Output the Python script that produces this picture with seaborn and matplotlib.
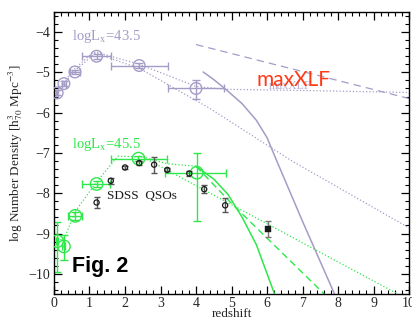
import numpy as np
import pandas as pd
import matplotlib
matplotlib.use("Agg")
import matplotlib.pyplot as plt
import seaborn as sns
from matplotlib.ticker import MultipleLocator

# ---------------- data ----------------
# logLx = 43.5 (purple) data points
p_z = [0.09, 0.28, 0.59, 1.2, 2.4, 4.0]
p_y = [-5.51, -5.28, -4.99, -4.6, -4.83, -5.40]
p_xlo = [0.03, 0.05, 0.15, 0.4, 0.8, 0.8]
p_xhi = [0.03, 0.05, 0.15, 0.4, 0.8, 0.8]
p_ylo = [0.06, 0.06, 0.06, 0.06, 0.06, 0.25]
p_yhi = [0.06, 0.06, 0.06, 0.06, 0.06, 0.2]

# purple model curves
pu1_z = [0.05, 0.3, 0.6, 1.2, 2.4, 4.0, 4.8, 7.0, 10.0]
pu1_y = [-5.55, -5.25, -4.95, -4.5, -4.8, -5.35, -5.42, -5.45, -5.5]
pu2_z = [0.05, 0.3, 0.6, 1.1, 2.4, 4.4, 6.7, 10.0]
pu2_y = [-5.5, -5.2, -4.9, -4.5, -4.9, -5.9, -7.2, -8.86]
pdash_z = [4.0, 10.0]
pdash_y = [-4.31, -5.65]
psolid_z = [4.2, 4.5, 4.85, 5.3, 5.7, 6.0, 6.25, 7.0, 7.9]
psolid_y = [-4.99, -5.18, -5.43, -5.78, -6.19, -6.62, -7.15, -8.7, -10.5]

# logLx = 45.5 (green) data points
g_z = [0.09, 0.28, 0.6, 1.2, 2.38, 4.02]
g_y = [-9.19, -9.32, -8.56, -7.77, -7.14, -7.49]
g_xlo = [0.02, 0.04, 0.2, 0.4, 0.78, 0.88]
g_xhi = [0.02, 0.04, 0.18, 0.38, 0.8, 0.83]
g_ylo = [0.76, 0.34, 0.1, 0.07, 0.07, 1.2]
g_yhi = [0.48, 0.28, 0.1, 0.07, 0.07, 0.49]

# green model curves
gdot_z = [0.1, 0.3, 0.6, 1.2, 1.8, 2.5, 9.68]
gdot_y = [-9.2, -9.1, -8.45, -7.72, -7.08, -7.1, -10.5]
gdot2_z = [2.5, 3.2, 4.0]
gdot2_y = [-7.1, -7.27, -7.33]
gsolid_z = [4.0, 4.5, 4.9, 5.3, 5.7, 6.21]
gsolid_y = [-7.33, -7.65, -8.03, -8.6, -9.28, -10.5]
gdash_z = [4.0, 5.03, 7.61]
gdash_y = [-7.33, -8.28, -10.5]

# SDSS QSOs
s_z = [1.2, 1.6, 2.0, 2.4, 2.82, 3.19, 3.81, 4.23, 4.82]
s_y = [-8.23, -7.69, -7.36, -7.25, -7.29, -7.42, -7.51, -7.9, -8.3]
s_err = [0.13, 0.08, 0.04, 0.04, 0.2, 0.04, 0.07, 0.1, 0.17]
s6_z = [6.02]
s6_y = [-8.88]
s6_err = [0.2]

# ---------------- style ----------------
sns.set_style("ticks")
plt.rcParams["font.family"] = ["Liberation Serif", "DejaVu Serif"]
plt.rcParams["mathtext.fontset"] = "stix"
plt.rcParams["axes.unicode_minus"] = True

PURPLE = "#a59cc6"
GREEN = "#2ee84a"
BLACK = "#1a1a1a"

fig = plt.figure(figsize=(4.12, 3.22), dpi=100)
ax = fig.add_axes([0.131, 0.087, 0.862, 0.876])

def line(z, y, color, ls, lw=1.0):
    df = pd.DataFrame({"z": z, "y": y})
    sns.lineplot(data=df, x="z", y="y", ax=ax, color=color, linestyle=ls,
                 linewidth=lw, sort=False, estimator=None)

# purple curves
line(pu1_z, pu1_y, PURPLE, ":", 0.9)
line(pu2_z, pu2_y, PURPLE, ":", 0.9)
line(pdash_z, pdash_y, PURPLE, (0, (6, 4)), 0.9)
line(psolid_z, psolid_y, PURPLE, "-", 1.1)

# green curves
line(gdot_z, gdot_y, GREEN, ":", 0.9)
line(gdot2_z, gdot2_y, GREEN, ":", 0.9)
line(gsolid_z, gsolid_y, GREEN, "-", 1.1)
line(gdash_z, gdash_y, GREEN, (0, (5, 3)), 1.0)

# purple points
ax.errorbar(p_z, p_y, xerr=[p_xlo, p_xhi], yerr=[p_ylo, p_yhi], fmt="none",
            ecolor=PURPLE, elinewidth=1.0, capsize=3)
sns.scatterplot(x=p_z, y=p_y, ax=ax, marker="o", s=70, facecolor="none",
                edgecolor=PURPLE, linewidth=1.0, zorder=5)

# green points
ax.errorbar(g_z, g_y, xerr=[g_xlo, g_xhi], yerr=[g_ylo, g_yhi], fmt="none",
            ecolor=GREEN, elinewidth=1.0, capsize=3)
sns.scatterplot(x=g_z, y=g_y, ax=ax, marker="o", s=80, facecolor="none",
                edgecolor=GREEN, linewidth=1.0, zorder=5)

# SDSS points
ax.errorbar(s_z, s_y, yerr=s_err, fmt="none", ecolor="#555555",
            elinewidth=1.0, capsize=2.5)
sns.scatterplot(x=s_z, y=s_y, ax=ax, marker="o", s=14, facecolor="none",
                edgecolor=BLACK, linewidth=0.9, zorder=6)
ax.errorbar(s6_z, s6_y, yerr=s6_err, fmt="none", ecolor="#777777",
            elinewidth=1.0, capsize=2.5)
sns.scatterplot(x=s6_z, y=s6_y, ax=ax, marker="s", s=14, color=BLACK,
                edgecolor=BLACK, zorder=6)

# texts
ax.text(0.52, -4.1, r"logL$_\mathrm{x}$=43.5", color=PURPLE, fontsize=10.5,
        va="center", ha="left")
ax.text(0.52, -6.78, r"logL$_\mathrm{x}$=45.5", color=GREEN, fontsize=10.5,
        va="center", ha="left")
ax.text(1.5, -8.07, "SDSS  QSOs", color=BLACK, fontsize=9.5, va="center",
        ha="left")
ax.text(6.05, -5.33, "maxXLF", color=PURPLE, fontsize=8.5, va="center",
        ha="left", alpha=0.8)
ax.text(5.7, -5.2, "maxXLF", color="#ff3a16", fontsize=15, va="center",
        ha="left", family=["Lato", "DejaVu Sans"])
ax.text(0.52, -9.82, "Fig. 2", color="black", fontsize=15.5, va="center",
        ha="left", fontweight="bold", family=["Liberation Sans", "DejaVu Sans"])

ax.set_xlim(0, 10)
ax.set_ylim(-10.5, -3.5)
ax.set_xlabel("redshift", fontsize=9.5, labelpad=-1)
ax.set_ylabel(r"log Number Density [h$^3_{70}$ Mpc$^{-3}$]", fontsize=9.5,
              labelpad=2)

ax.xaxis.set_major_locator(MultipleLocator(1))
ax.xaxis.set_minor_locator(MultipleLocator(0.2))
ax.yaxis.set_major_locator(MultipleLocator(1))
ax.yaxis.set_minor_locator(MultipleLocator(0.2))
ax.tick_params(which="both", direction="in", top=True, right=True,
               labelsize=10, color="black")
ax.tick_params(which="major", length=6, width=0.9, pad=3)
ax.tick_params(axis="x", which="major", pad=2)
ax.tick_params(which="minor", length=3, width=0.8)
for sp in ax.spines.values():
    sp.set_color("black")
    sp.set_linewidth(1.0)

fig.savefig("out.png", dpi=100)
